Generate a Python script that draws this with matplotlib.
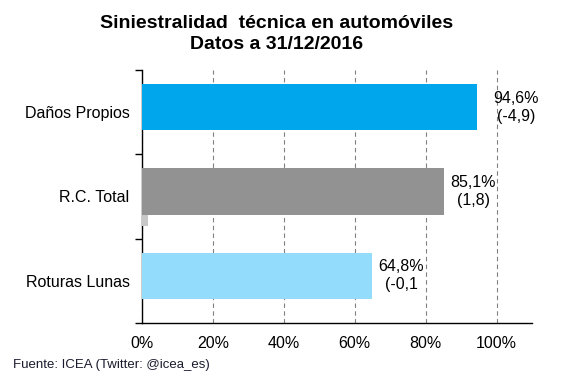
import matplotlib.pyplot as plt
import numpy as np

plt.rcParams['font.family'] = ['Liberation Sans', 'DejaVu Sans']

# Data
categories = ['Daños Propios', 'R.C. Total', 'Roturas Lunas']
siniestralidad = [94.6, 85.1, 64.8]
variacion = [-4.9, 1.8, -0.1]
labels = ['94,6%\n(-4,9)', '85,1%\n(1,8)', '64,8%\n(-0,1']
colors = ['#00a6ec', '#939293', '#94dcfc']

fig = plt.figure(figsize=(5.67, 3.78), dpi=100)
ax = fig.add_axes([142 / 567, 1 - 323 / 378, 390 / 567, 253 / 378])

y = np.arange(len(categories))[::-1]
ax.barh(y + 5 / 84, siniestralidad, height=46 / 84, color=colors, zorder=3)
ax.barh(y - 23.5 / 84, variacion, height=11 / 84, color='#c8c8c8', zorder=3)

# label offsets in points (first one is pushed further right in the original)
offsets = [11.5, 5, 5]
for yi, v, lab, off in zip(y, siniestralidad, labels, offsets):
    ax.annotate(lab, (v, yi + 5 / 84), xytext=(off, 0), textcoords='offset points',
                ha='left', va='center', multialignment='center', fontsize=11.5,
                linespacing=1.25)

ax.set_xlim(0, 110)
ax.set_ylim(-0.5, 2.5)
ax.set_xticks([0, 20, 40, 60, 80, 100])
ax.set_xticklabels(['0%', '20%', '40%', '60%', '80%', '100%'], fontsize=11.5)
ax.tick_params(axis='x', length=0, pad=9)
ax.set_yticks([-0.5, 0.5, 1.5, 2.5])
ax.set_yticklabels([])
ax.tick_params(axis='y', which='major', length=5, width=1, direction='out')
ax.set_yticks(y, minor=True)
ax.set_yticklabels(categories, minor=True, fontsize=11.5)
ax.tick_params(axis='y', which='minor', length=0, pad=9)

ax.grid(axis='x', linestyle=(0, (4, 3)), color='#808080', linewidth=0.8, zorder=0)
ax.spines['top'].set_visible(False)
ax.spines['right'].set_visible(False)
ax.spines['left'].set_linewidth(1)
ax.spines['bottom'].set_linewidth(1)

fig.text(0.487, 1 - 34 / 378, 'Siniestralidad  técnica en automóviles\nDatos a 31/12/2016',
         ha='center', va='center', fontsize=14, fontweight='bold', linespacing=1.3)
fig.text(13 / 567, 1 - 365 / 378, 'Fuente: ICEA (Twitter: @icea_es)', ha='left', va='center',
         fontsize=9.5, color='#1a1a2e')

fig.savefig('out.png', dpi=100)
